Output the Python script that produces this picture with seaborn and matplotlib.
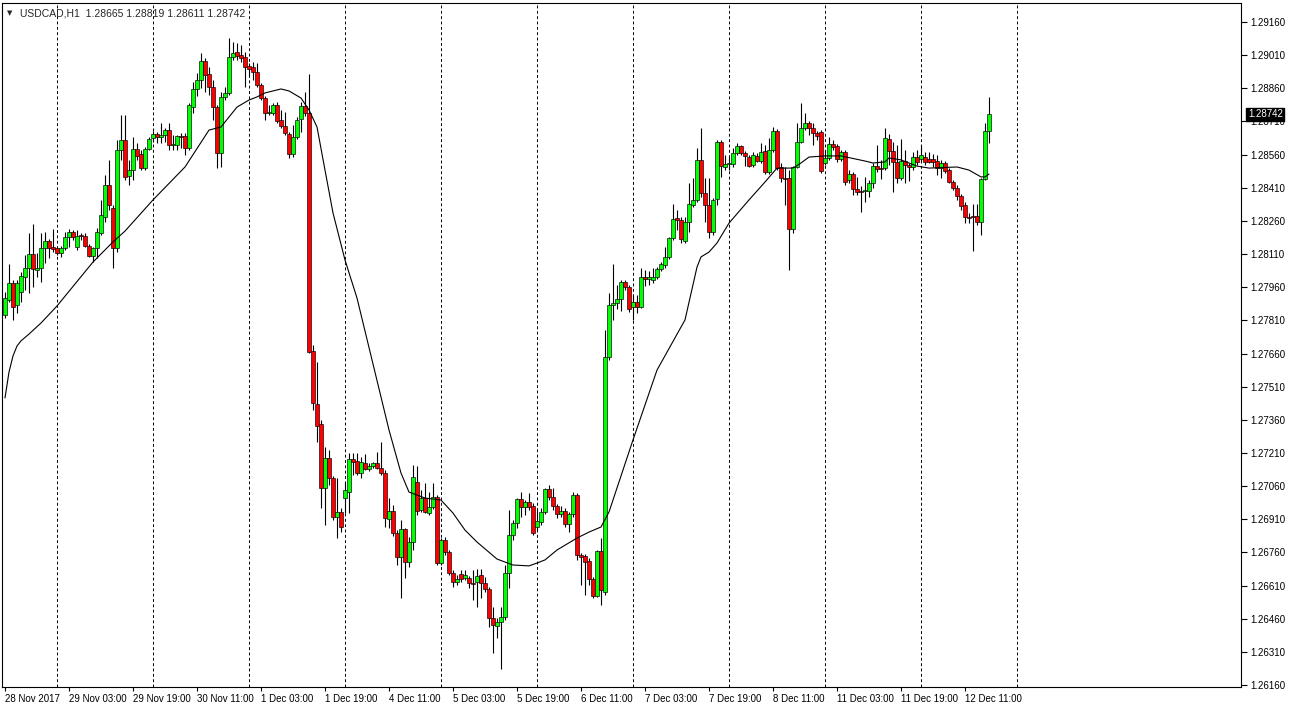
import matplotlib
matplotlib.use("Agg")
import numpy as np
import pandas as pd
import seaborn as sns
import matplotlib.pyplot as plt
import matplotlib.transforms as mtransforms

# USDCAD H1 candles, 28 Nov 2017 11:00 -> 12 Dec 2017 17:00
opens = [
    1.27834, 1.27902, 1.27979, 1.27879, 1.27938, 1.28006, 1.28047, 1.28110, 1.28038, 1.28047,
    1.28137, 1.28169, 1.28142, 1.28137, 1.28115, 1.28137, 1.28187, 1.28210, 1.28142, 1.28196,
    1.28192, 1.28146, 1.28101, 1.28137, 1.28205, 1.28278, 1.28422, 1.28318, 1.28137, 1.28581,
    1.28626, 1.28463, 1.28490, 1.28585, 1.28563, 1.28499, 1.28585, 1.28635, 1.28653, 1.28640,
    1.28649, 1.28671, 1.28603, 1.28603, 1.28644, 1.28644, 1.28590, 1.28775, 1.28857, 1.28898,
    1.28984, 1.28925, 1.28866, 1.28775, 1.28567, 1.28821, 1.28839, 1.29002, 1.29024, 1.29011,
    1.29002, 1.28961, 1.28956, 1.28934, 1.28875, 1.28816, 1.28748, 1.28748, 1.28784, 1.28717,
    1.28689, 1.28653, 1.28563, 1.28640, 1.28721, 1.28780, 1.28748, 1.27671, 1.27431, 1.27341,
    1.27051, 1.27187, 1.27097, 1.26920, 1.26943, 1.27006, 1.27033, 1.27183, 1.27174, 1.27119,
    1.27164, 1.27137, 1.27151, 1.27164, 1.27142, 1.27119, 1.26911, 1.26947, 1.26848, 1.26739,
    1.26866, 1.26717, 1.26807, 1.27079, 1.26952, 1.27006, 1.26938, 1.26965, 1.27011, 1.26712,
    1.26816, 1.26762, 1.26667, 1.26626, 1.26662, 1.26644, 1.26644, 1.26621, 1.26626, 1.26658,
    1.26621, 1.26594, 1.26463, 1.26427, 1.26445, 1.26468, 1.26667, 1.26839, 1.26893, 1.27002,
    1.26965, 1.26988, 1.26970, 1.26875, 1.26898, 1.26943, 1.27047, 1.27011, 1.26970, 1.26934,
    1.26947, 1.26888, 1.26934, 1.27020, 1.26748, 1.26744, 1.26721, 1.26640, 1.26563, 1.26766,
    1.26581, 1.27644, 1.27879, 1.27888, 1.27907, 1.27984, 1.27961, 1.27870, 1.27893, 1.27870,
    1.28006, 1.27997, 1.27993, 1.28006, 1.28042, 1.28060, 1.28097, 1.28183, 1.28273, 1.28264,
    1.28169, 1.28255, 1.28332, 1.28355, 1.28536, 1.28386, 1.28332, 1.28210, 1.28359, 1.28617,
    1.28504, 1.28517, 1.28517, 1.28567, 1.28599, 1.28567, 1.28549, 1.28513, 1.28554, 1.28531,
    1.28576, 1.28481, 1.28581, 1.28667, 1.28504, 1.28454, 1.28454, 1.28223, 1.28504, 1.28617,
    1.28680, 1.28703, 1.28680, 1.28658, 1.28662, 1.28522, 1.28545, 1.28608, 1.28599, 1.28540,
    1.28572, 1.28445, 1.28472, 1.28404, 1.28395, 1.28395, 1.28395, 1.28431, 1.28508, 1.28499,
    1.28499, 1.28631, 1.28576, 1.28527, 1.28454, 1.28531, 1.28513, 1.28504, 1.28549, 1.28540,
    1.28549, 1.28540, 1.28540, 1.28531, 1.28499, 1.28522, 1.28490, 1.28436, 1.28409, 1.28373,
    1.28332, 1.28278, 1.28282, 1.28282, 1.28255, 1.28450, 1.28665,
]
highs = [
    1.27938, 1.28065, 1.27993, 1.27993, 1.28029, 1.28106, 1.28205, 1.28246, 1.28115, 1.28205,
    1.28210, 1.28178, 1.28223, 1.28142, 1.28146, 1.28210, 1.28223, 1.28219, 1.28219, 1.28205,
    1.28205, 1.28155, 1.28142, 1.28228, 1.28355, 1.28468, 1.28536, 1.28332, 1.28626, 1.28739,
    1.28739, 1.28536, 1.28640, 1.28612, 1.28581, 1.28594, 1.28640, 1.28667, 1.28662, 1.28703,
    1.28680, 1.28703, 1.28649, 1.28649, 1.28658, 1.28658, 1.28793, 1.28889, 1.28929, 1.29020,
    1.28997, 1.28956, 1.28898, 1.28784, 1.28843, 1.28866, 1.29088, 1.29070, 1.29065, 1.29056,
    1.29024, 1.28974, 1.28979, 1.28974, 1.28884, 1.28825, 1.28784, 1.28793, 1.28798, 1.28762,
    1.28753, 1.28662, 1.28694, 1.28730, 1.28798, 1.28843, 1.28925, 1.27698, 1.27622, 1.27359,
    1.27237, 1.27223, 1.27106, 1.27097, 1.26961, 1.27079, 1.27210, 1.27210, 1.27210, 1.27192,
    1.27205, 1.27164, 1.27169, 1.27214, 1.27260, 1.27133, 1.27006, 1.26974, 1.26861, 1.26907,
    1.26870, 1.26830, 1.27155, 1.27151, 1.27042, 1.27074, 1.27033, 1.27074, 1.27020, 1.26825,
    1.26830, 1.26771, 1.26680, 1.26658, 1.26680, 1.26680, 1.26653, 1.26680, 1.26685, 1.26685,
    1.26649, 1.26603, 1.26513, 1.26463, 1.26513, 1.26703, 1.26952, 1.26907, 1.27006, 1.27033,
    1.26997, 1.27029, 1.26984, 1.26961, 1.26961, 1.27051, 1.27065, 1.27051, 1.26979, 1.26970,
    1.26961, 1.26943, 1.27033, 1.27029, 1.26757, 1.26753, 1.26735, 1.26649, 1.26771, 1.26825,
    1.27766, 1.27934, 1.28065, 1.27970, 1.27993, 1.27993, 1.27970, 1.27925, 1.27925, 1.28047,
    1.28038, 1.28033, 1.28047, 1.28051, 1.28074, 1.28142, 1.28187, 1.28336, 1.28309, 1.28278,
    1.28278, 1.28431, 1.28454, 1.28590, 1.28680, 1.28454, 1.28454, 1.28364, 1.28626, 1.28626,
    1.28558, 1.28549, 1.28590, 1.28612, 1.28603, 1.28576, 1.28558, 1.28572, 1.28567, 1.28612,
    1.28603, 1.28635, 1.28685, 1.28676, 1.28522, 1.28504, 1.28490, 1.28508, 1.28703, 1.28793,
    1.28748, 1.28712, 1.28703, 1.28667, 1.28671, 1.28581, 1.28640, 1.28626, 1.28608, 1.28581,
    1.28581, 1.28490, 1.28481, 1.28459, 1.28418, 1.28459, 1.28445, 1.28522, 1.28603, 1.28536,
    1.28680, 1.28653, 1.28617, 1.28603, 1.28631, 1.28581, 1.28522, 1.28572, 1.28581, 1.28603,
    1.28572, 1.28572, 1.28563, 1.28558, 1.28536, 1.28531, 1.28499, 1.28445, 1.28422, 1.28382,
    1.28345, 1.28296, 1.28336, 1.28336, 1.28454, 1.28703, 1.28819,
]
lows = [
    1.27821, 1.27893, 1.27812, 1.27843, 1.27893, 1.27947, 1.27934, 1.27961, 1.28006, 1.27984,
    1.28069, 1.28092, 1.28119, 1.28106, 1.28097, 1.28128, 1.28142, 1.28174, 1.28128, 1.28174,
    1.28142, 1.28097, 1.28074, 1.28092, 1.28196, 1.28255, 1.28309, 1.28047, 1.28119, 1.28536,
    1.28445, 1.28422, 1.28445, 1.28536, 1.28490, 1.28490, 1.28581, 1.28617, 1.28612, 1.28612,
    1.28617, 1.28581, 1.28581, 1.28581, 1.28590, 1.28558, 1.28581, 1.28748, 1.28825, 1.28861,
    1.28843, 1.28830, 1.28717, 1.28499, 1.28504, 1.28807, 1.28830, 1.28988, 1.28988, 1.28979,
    1.28866, 1.28920, 1.28898, 1.28866, 1.28807, 1.28717, 1.28739, 1.28739, 1.28703, 1.28680,
    1.28649, 1.28545, 1.28549, 1.28631, 1.28662, 1.28735, 1.27662, 1.27404, 1.27260, 1.26961,
    1.26884, 1.27065, 1.26907, 1.26825, 1.26852, 1.26938, 1.26938, 1.27110, 1.27110, 1.27097,
    1.27133, 1.27128, 1.27142, 1.27137, 1.27110, 1.26875, 1.26870, 1.26834, 1.26703, 1.26554,
    1.26644, 1.26694, 1.26771, 1.26929, 1.26943, 1.26938, 1.26929, 1.26956, 1.26703, 1.26703,
    1.26748, 1.26658, 1.26603, 1.26612, 1.26626, 1.26635, 1.26599, 1.26545, 1.26513, 1.26554,
    1.26581, 1.26422, 1.26305, 1.26373, 1.26232, 1.26454, 1.26599, 1.26816, 1.26870, 1.26920,
    1.26929, 1.26952, 1.26839, 1.26861, 1.26884, 1.26934, 1.26997, 1.26952, 1.26916, 1.26920,
    1.26875, 1.26852, 1.26920, 1.26726, 1.26612, 1.26567, 1.26612, 1.26554, 1.26558, 1.26522,
    1.26567, 1.27631, 1.27812, 1.27861, 1.27852, 1.27947, 1.27848, 1.27812, 1.27843, 1.27866,
    1.27965, 1.27970, 1.27979, 1.27997, 1.28033, 1.28047, 1.28088, 1.28174, 1.28219, 1.28160,
    1.28160, 1.28210, 1.28323, 1.28345, 1.28368, 1.28255, 1.28183, 1.28196, 1.28332, 1.28459,
    1.28490, 1.28490, 1.28504, 1.28558, 1.28558, 1.28508, 1.28504, 1.28504, 1.28527, 1.28522,
    1.28472, 1.28472, 1.28572, 1.28490, 1.28436, 1.28332, 1.28038, 1.28205, 1.28499, 1.28612,
    1.28671, 1.28649, 1.28603, 1.28626, 1.28477, 1.28513, 1.28536, 1.28581, 1.28527, 1.28531,
    1.28422, 1.28431, 1.28377, 1.28377, 1.28300, 1.28345, 1.28368, 1.28409, 1.28481, 1.28450,
    1.28490, 1.28513, 1.28391, 1.28431, 1.28445, 1.28431, 1.28441, 1.28490, 1.28513, 1.28527,
    1.28513, 1.28522, 1.28504, 1.28468, 1.28454, 1.28477, 1.28431, 1.28400, 1.28355, 1.28309,
    1.28250, 1.28250, 1.28124, 1.28241, 1.28196, 1.28445, 1.28611,
]
closes = [
    1.27911, 1.27979, 1.27870, 1.27979, 1.28011, 1.28047, 1.28110, 1.28042, 1.28047, 1.28137,
    1.28169, 1.28137, 1.28133, 1.28115, 1.28137, 1.28187, 1.28210, 1.28187, 1.28192, 1.28192,
    1.28146, 1.28101, 1.28137, 1.28210, 1.28287, 1.28422, 1.28332, 1.28137, 1.28581, 1.28626,
    1.28459, 1.28490, 1.28585, 1.28554, 1.28499, 1.28585, 1.28631, 1.28653, 1.28640, 1.28649,
    1.28671, 1.28603, 1.28608, 1.28644, 1.28640, 1.28590, 1.28784, 1.28857, 1.28898, 1.28984,
    1.28920, 1.28866, 1.28775, 1.28567, 1.28821, 1.28839, 1.29002, 1.29020, 1.29006, 1.28997,
    1.28956, 1.28947, 1.28934, 1.28875, 1.28816, 1.28748, 1.28753, 1.28784, 1.28712, 1.28689,
    1.28658, 1.28563, 1.28640, 1.28717, 1.28780, 1.28748, 1.27667, 1.27436, 1.27332, 1.27051,
    1.27187, 1.27097, 1.26920, 1.26943, 1.26875, 1.27042, 1.27183, 1.27169, 1.27119, 1.27169,
    1.27137, 1.27151, 1.27164, 1.27142, 1.27119, 1.26916, 1.26947, 1.26848, 1.26739, 1.26866,
    1.26717, 1.26807, 1.27101, 1.26947, 1.27006, 1.26943, 1.26965, 1.27011, 1.26712, 1.26816,
    1.26762, 1.26667, 1.26626, 1.26640, 1.26640, 1.26658, 1.26621, 1.26617, 1.26653, 1.26621,
    1.26594, 1.26463, 1.26431, 1.26445, 1.26468, 1.26667, 1.26839, 1.26893, 1.27002, 1.26965,
    1.26988, 1.26965, 1.26848, 1.26902, 1.26943, 1.27047, 1.27011, 1.26970, 1.26934, 1.26947,
    1.26888, 1.26934, 1.27020, 1.26748, 1.26739, 1.26717, 1.26640, 1.26563, 1.26766, 1.26590,
    1.27644, 1.27879, 1.27888, 1.27907, 1.27984, 1.27961, 1.27861, 1.27893, 1.27870, 1.28006,
    1.27997, 1.28006, 1.28006, 1.28042, 1.28065, 1.28097, 1.28183, 1.28269, 1.28264, 1.28178,
    1.28255, 1.28336, 1.28355, 1.28536, 1.28386, 1.28332, 1.28210, 1.28355, 1.28617, 1.28508,
    1.28517, 1.28522, 1.28567, 1.28599, 1.28567, 1.28554, 1.28508, 1.28558, 1.28531, 1.28572,
    1.28481, 1.28581, 1.28667, 1.28499, 1.28454, 1.28450, 1.28223, 1.28504, 1.28617, 1.28680,
    1.28703, 1.28680, 1.28658, 1.28644, 1.28486, 1.28545, 1.28608, 1.28594, 1.28540, 1.28572,
    1.28436, 1.28472, 1.28404, 1.28391, 1.28391, 1.28400, 1.28431, 1.28508, 1.28495, 1.28497,
    1.28635, 1.28576, 1.28527, 1.28454, 1.28531, 1.28513, 1.28504, 1.28549, 1.28527, 1.28558,
    1.28527, 1.28527, 1.28527, 1.28499, 1.28522, 1.28486, 1.28436, 1.28409, 1.28373, 1.28327,
    1.28278, 1.28273, 1.28278, 1.28255, 1.28450, 1.28667, 1.28742,
]

# moving average line, read at a set of bars
ma_bars = [0, 1, 2, 3, 4, 6, 9, 13, 22, 27, 30, 37, 45, 51, 54, 58, 61, 63, 65, 69,
           71, 74, 76, 78, 80, 82, 85, 88, 96, 99, 101, 105, 109, 112, 115, 118, 123, 127, 131, 133,
           135, 138, 143, 146, 149, 151, 157, 163, 170, 173, 174, 176, 178, 181, 186, 190, 193, 197, 199, 201,
           205, 209, 215, 217, 220, 221, 224, 228, 231, 238, 241, 244, 245, 246]
ma_values = [1.27459, 1.27576, 1.27649, 1.27694, 1.27717, 1.27748, 1.27798, 1.27875, 1.28074, 1.28165,
             1.28214, 1.28355, 1.28504, 1.28671, 1.28685, 1.28775, 1.28807, 1.28821, 1.28839, 1.28857,
             1.28848, 1.28816, 1.28762, 1.28685, 1.28490, 1.28296, 1.28083, 1.27911, 1.27314, 1.27119,
             1.27033, 1.27006, 1.26997, 1.26938, 1.26861, 1.26807, 1.26730, 1.26703, 1.26699, 1.26712,
             1.26726, 1.26771, 1.26825, 1.26852, 1.26875, 1.26943, 1.27269, 1.27585, 1.27812, 1.28051,
             1.28097, 1.28119, 1.28160, 1.28250, 1.28355, 1.28436, 1.28499, 1.28499, 1.28522, 1.28549,
             1.28554, 1.28554, 1.28531, 1.28522, 1.28527, 1.28545, 1.28536, 1.28508, 1.28499, 1.28504,
             1.28490, 1.28459, 1.28459, 1.28472]

time_labels = ["28 Nov 2017", "29 Nov 03:00", "29 Nov 19:00", "30 Nov 11:00", "1 Dec 03:00",
               "1 Dec 19:00", "4 Dec 11:00", "5 Dec 03:00", "5 Dec 19:00", "6 Dec 11:00",
               "7 Dec 03:00", "7 Dec 19:00", "8 Dec 11:00", "11 Dec 03:00", "11 Dec 19:00",
               "12 Dec 11:00"]
label_bars = [0, 16, 32, 48, 64, 80, 96, 112, 128, 144, 160, 176, 192, 208, 224, 240]
day_bars = [13, 37, 61, 85, 109, 133, 157, 181, 205, 229, 253]
price_ticks = [1.26160, 1.26310, 1.26460, 1.26610, 1.26760, 1.26910, 1.27060, 1.27210,
               1.27360, 1.27510, 1.27660, 1.27810, 1.27960, 1.28110, 1.28260, 1.28410,
               1.28560, 1.28710, 1.28860, 1.29010, 1.29160]
last_price = 1.28742

df = pd.DataFrame({"open": opens, "high": highs, "low": lows, "close": closes})
df["bar"] = np.arange(len(df))
df["up"] = df["close"] >= df["open"]

sns.set_theme(style="white")
plt.rcParams["font.family"] = ["Liberation Sans", "DejaVu Sans"]

W, H = 1290, 710
fig = plt.figure(figsize=(W / 100, H / 100), dpi=100)
fig.patch.set_facecolor("white")
ax = fig.add_axes([2 / W, 23 / H, 1239 / W, 684 / H])
ax.set_facecolor("white")

# day separators
for d in day_bars:
    ax.axvline(d, color="black", lw=0.7, ls=(0, (3, 2.5)), zorder=1)

# wicks and bodies
ax.vlines(df["bar"], df["low"], df["high"], color="black", lw=0.8, zorder=2)
body_bottom = df[["open", "close"]].min(axis=1)
body_height = (df["close"] - df["open"]).abs()
colors = np.where(df["up"], "#00ff00", "#ff0000")
ax.bar(df["bar"], body_height, bottom=body_bottom, width=0.78, color=colors,
       edgecolor="black", linewidth=0.45, zorder=3)

# moving average
sns.lineplot(x=ma_bars, y=ma_values, ax=ax, color="black", lw=0.8, zorder=4)

ax.set_xlim(-0.75, 309)
ax.set_ylim(1.26151, 1.29246)

# price axis on the right
ax.yaxis.tick_right()
ax.set_yticks(price_ticks)
ax.set_yticklabels([f"{p:.5f}" for p in price_ticks])
ax.tick_params(axis="y", which="both", right=True, left=False, direction="out",
               length=4, width=0.8, pad=3, labelsize=7, colors="black")

# time axis
ax.set_xticks(label_bars)
ax.set_xticklabels(time_labels, ha="left")
ax.tick_params(axis="x", bottom=True, direction="out", length=3, width=0.8,
               pad=2, labelsize=7, colors="black")
ax.set_xlabel("")
ax.set_ylabel("")

for s in ax.spines.values():
    s.set_color("black")
    s.set_linewidth(0.8)

# current price tag
trans = mtransforms.blended_transform_factory(ax.transAxes, ax.transData)
ax.text(1.0055, last_price, f"{last_price:.5f}", transform=trans, ha="left", va="center",
        fontsize=7, color="white",
        bbox=dict(boxstyle="square,pad=0.15", facecolor="black", edgecolor="black"))

# header
fig.text(7 / W, 1 - 13 / H, "\u25bc", fontsize=5, va="center", ha="left", family="DejaVu Sans")
fig.text(20 / W, 1 - 13 / H, "USDCAD,H1  1.28665 1.28819 1.28611 1.28742",
         fontsize=7.5, va="center", ha="left")

fig.savefig("out.png", dpi=100, facecolor="white")
